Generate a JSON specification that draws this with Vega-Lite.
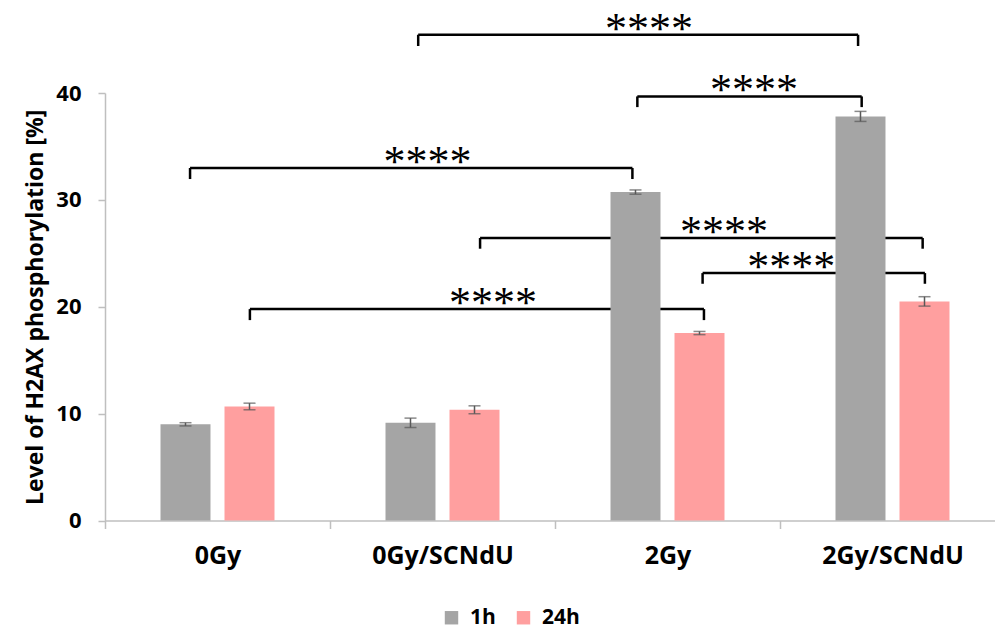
{
  "$schema": "https://vega.github.io/schema/vega-lite/v6.json",
  "width": 890,
  "height": 427.5,
  "autosize": {"type": "none"},
  "padding": {"left": 105, "top": 93, "right": 0, "bottom": 109.5},
  "background": "white",
  "config": {"view": {"stroke": null}, "font": "Open Sans"},
  "datasets": {
    "bars": [
      {"group": "0Gy", "time": "1h", "value": 9.0, "lo": 8.85, "hi": 9.15},
      {"group": "0Gy", "time": "24h", "value": 10.67, "lo": 10.36, "hi": 10.98},
      {"group": "0Gy/SCNdU", "time": "1h", "value": 9.14, "lo": 8.7, "hi": 9.58},
      {"group": "0Gy/SCNdU", "time": "24h", "value": 10.36, "lo": 9.99, "hi": 10.73},
      {"group": "2Gy", "time": "1h", "value": 30.73, "lo": 30.53, "hi": 30.93},
      {"group": "2Gy", "time": "24h", "value": 17.54, "lo": 17.39, "hi": 17.69},
      {"group": "2Gy/SCNdU", "time": "1h", "value": 37.81, "lo": 37.34, "hi": 38.28},
      {"group": "2Gy/SCNdU", "time": "24h", "value": 20.5, "lo": 20.06, "hi": 20.94}
    ],
    "brackets": [
      {"x1": 1.392, "x2": 3.347, "xm": 2.418, "y": 45.45, "yt": 44.4, "label": "****"},
      {"x1": 2.366, "x2": 3.363, "xm": 2.884, "y": 39.68, "yt": 38.68, "label": "****"},
      {"x1": 0.378, "x2": 2.344, "xm": 1.433, "y": 32.98, "yt": 31.95, "label": "****"},
      {"x1": 1.667, "x2": 3.634, "xm": 2.751, "y": 26.43, "yt": 25.43, "label": "****"},
      {"x1": 2.656, "x2": 3.644, "xm": 3.05, "y": 23.15, "yt": 22.15, "label": "****"},
      {"x1": 0.644, "x2": 2.662, "xm": 1.724, "y": 19.78, "yt": 18.75, "label": "****"}
    ]
  },
  "resolve": {"scale": {"x": "independent"}},
  "layer": [
    {
      "data": {"name": "brackets"},
      "layer": [
        {"mark": {"type": "rule", "color": "black", "strokeWidth": 2.5}, "encoding": {
          "x": {"field": "x1", "type": "quantitative", "scale": {"domain": [0, 4], "range": [0, 900], "nice": false}, "axis": null},
          "x2": {"field": "x2"},
          "y": {"field": "y", "type": "quantitative", "scale": {"domain": [0, 40], "nice": false}}
        }},
        {"mark": {"type": "rule", "color": "black", "strokeWidth": 2.5}, "encoding": {
          "x": {"field": "x1", "type": "quantitative", "scale": {"domain": [0, 4], "range": [0, 900], "nice": false}, "axis": null},
          "y": {"field": "y", "type": "quantitative"},
          "y2": {"field": "yt"}
        }},
        {"mark": {"type": "rule", "color": "black", "strokeWidth": 2.5}, "encoding": {
          "x": {"field": "x2", "type": "quantitative", "scale": {"domain": [0, 4], "range": [0, 900], "nice": false}, "axis": null},
          "y": {"field": "y", "type": "quantitative"},
          "y2": {"field": "yt"}
        }},
        {"mark": {"type": "text", "font": "Liberation Serif", "fontSize": 44, "baseline": "alphabetic", "align": "center", "dy": 8, "color": "black"}, "encoding": {
          "x": {"field": "xm", "type": "quantitative", "scale": {"domain": [0, 4], "range": [0, 900], "nice": false}, "axis": null},
          "y": {"field": "y", "type": "quantitative"},
          "text": {"field": "label"}
        }}
      ]
    },
    {
      "data": {"name": "bars"},
      "encoding": {
        "x": {"field": "group", "type": "nominal", "sort": ["0Gy", "0Gy/SCNdU", "2Gy", "2Gy/SCNdU"],
          "scale": {"range": [0, 900], "paddingInner": 0, "paddingOuter": 0},
          "axis": {"title": null, "labelAngle": 0, "labelFont": "Open Sans", "labelFontSize": 25, "labelFontWeight": "bold", "labelColor": "black", "labelPadding": 15,
            "domainColor": "#BFBFBF", "domainWidth": 1.5, "tickColor": "#BFBFBF", "tickWidth": 1.5, "tickSize": 8, "tickBand": "extent", "grid": false}},
        "xOffset": {"field": "time", "type": "nominal", "scale": {"paddingInner": 0.219, "paddingOuter": 0.867}}
      },
      "layer": [
        {"mark": {"type": "bar"}, "encoding": {
          "y": {"field": "value", "type": "quantitative", "scale": {"domain": [0, 40], "nice": false},
            "axis": {"values": [0, 10, 20, 30, 40], "title": "Level of H2AX phosphorylation [%]", "titleFont": "Open Sans", "titleFontSize": 23, "titleFontWeight": "bold", "titleColor": "black", "titlePadding": 8,
              "labelFont": "Open Sans", "labelFontSize": 22, "labelFontWeight": "bold", "labelColor": "black", "labelPadding": 17,
              "domainColor": "#BFBFBF", "domainWidth": 1.5, "tickColor": "#BFBFBF", "tickWidth": 1.5, "tickSize": 7, "grid": false}},
          "color": {"field": "time", "type": "nominal", "scale": {"domain": ["1h", "24h"], "range": ["#A5A5A5", "#FF9F9F"]},
            "legend": {"title": null, "orient": "none", "legendX": 336, "legendY": 514, "direction": "horizontal", "symbolType": "square", "symbolSize": 180, "symbolStrokeWidth": 0, "labelFont": "Open Sans", "labelFontSize": 21, "labelFontWeight": "bold", "labelColor": "black", "labelOffset": 8, "columnPadding": 17}}
        }},
        {"mark": {"type": "rule", "color": "#595959", "strokeWidth": 1.5}, "encoding": {
          "y": {"field": "lo", "type": "quantitative"},
          "y2": {"field": "hi"}
        }},
        {"mark": {"type": "tick", "color": "#595959", "thickness": 1.5, "size": 12}, "encoding": {
          "y": {"field": "lo", "type": "quantitative"}
        }},
        {"mark": {"type": "tick", "color": "#595959", "thickness": 1.5, "size": 12}, "encoding": {
          "y": {"field": "hi", "type": "quantitative"}
        }}
      ]
    }
  ]
}
